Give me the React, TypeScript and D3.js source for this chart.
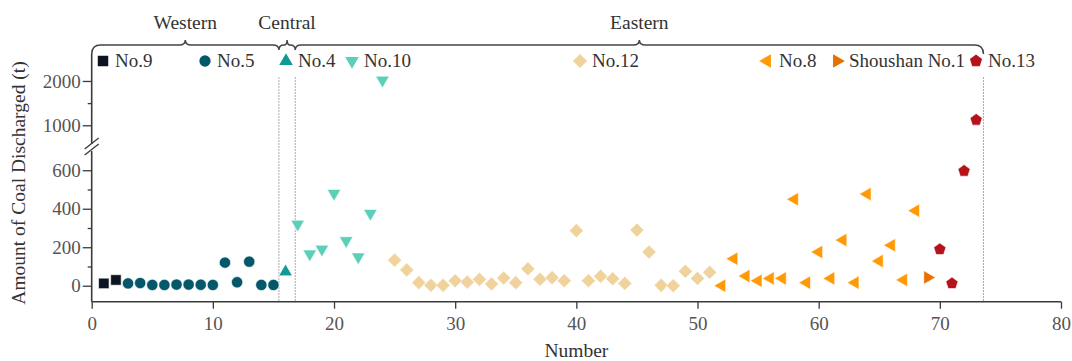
import React, { useEffect, useRef } from "react";
import * as d3 from "d3";

// [number, amount of coal discharged (t)]
const no9 = [[1, 12], [2, 30]];
const no5 = [
  [3, 12], [4, 14], [5, 4], [6, 4], [7, 6], [8, 6], [9, 5], [10, 4],
  [11, 120], [12, 18], [13, 125], [14, 4], [15, 4],
];
const no4 = [[16, 72]];
const no10 = [[17, 320], [18, 165], [19, 190], [20, 480], [21, 234], [22, 150], [23, 376], [24, 2020]];
const no12 = [
  [25, 133], [26, 82], [27, 16], [28, 2], [29, 2], [30, 26], [31, 19], [32, 33],
  [33, 9], [34, 40], [35, 16], [36, 88], [37, 33], [38, 42], [39, 26], [40, 286],
  [41, 26], [42, 49], [43, 36], [44, 12], [45, 289], [46, 175], [47, 2], [48, 0],
  [49, 75], [50, 38], [51, 70],
];
const no8 = [
  [52, 0], [53, 140], [54, 50], [55, 26], [56, 38], [57, 38], [58, 449], [59, 16],
  [60, 175], [61, 38], [62, 237], [63, 16], [64, 476], [65, 128], [66, 210], [67, 30], [68, 390],
];
const shoushan = [[69, 43]];
const no13 = [[70, 189], [71, 12], [72, 596], [73, 1120]];

const lowTicks = [0, 200, 400, 600];
const lowMinor = [100, 300, 500];
const highTicks = [1000, 2000];
const highMinor = [1500];
const xTicks = [0, 10, 20, 30, 40, 50, 60, 70, 80];
const dividers = [15.45, 16.8, 73.6];
const regions = [
  { name: "Western", from: 0, to: 15.45 },
  { name: "Central", from: 15.45, to: 16.8 },
  { name: "Eastern", from: 16.8, to: 73.6 },
];

const series = [
  { name: "No.9", data: no9, shape: "square", color: "#0b1420", lx: 103 },
  { name: "No.5", data: no5, shape: "circle", color: "#04586a", lx: 205 },
  { name: "No.4", data: no4, shape: "up", color: "#0f9a94", lx: 286 },
  { name: "No.10", data: no10, shape: "down", color: "#5ccfb8", lx: 352 },
  { name: "No.12", data: no12, shape: "diamond", color: "#f0d39c", lx: 580 },
  { name: "No.8", data: no8, shape: "left", color: "#ff9a05", lx: 767 },
  { name: "Shoushan No.1", data: shoushan, shape: "right", color: "#e86f00", lx: 837 },
  { name: "No.13", data: no13, shape: "pentagon", color: "#b5121b", lx: 976 },
];

const FONT = "'Liberation Serif', 'Times New Roman', serif";

function pentagon(r: number) {
  const pts = d3.range(5).map((i) => {
    const a = -Math.PI / 2 + (i * 2 * Math.PI) / 5;
    return [r * Math.cos(a), r * Math.sin(a)];
  });
  return "M" + pts.map((p) => p.join(",")).join("L") + "Z";
}

function markerPath(shape: string) {
  if (shape === "square") return d3.symbol(d3.symbolSquare, 110)()!;
  if (shape === "circle") return d3.symbol(d3.symbolCircle, 100)()!;
  if (shape === "diamond") return d3.symbol(d3.symbolSquare, 100)()!;
  if (shape === "pentagon") return pentagon(6.4);
  return d3.symbol(d3.symbolTriangle, 80)()!;
}

function markerRotate(shape: string) {
  if (shape === "down") return 180;
  if (shape === "left") return -90;
  if (shape === "right") return 90;
  if (shape === "diamond") return 45;
  return 0;
}

const App = () => {
  const ref = useRef<SVGSVGElement>(null);

  useEffect(() => {
    const svg = d3.select(ref.current);
    svg.selectAll("*").remove();

    const x = d3.scaleLinear().domain([0, 80]).range([91.7, 1061]);
    const yLow = d3.scaleLinear().domain([-83, 700]).range([301.7, 151]);
    const yHigh = d3.scaleLinear().domain([600, 2780]).range([143, 46.4]);
    const y = (v: number) => (v >= 700 ? yHigh(v) : yLow(v));

    const axisColor = "#3a3a3a";
    const bottom = 301.7;

    // dashed dividers
    svg.append("g")
      .selectAll("line")
      .data(dividers)
      .enter()
      .append("line")
      .attr("x1", (d) => x(d))
      .attr("x2", (d) => x(d))
      .attr("y1", 77)
      .attr("y2", bottom)
      .attr("stroke", "#aaa")
      .attr("stroke-width", 1)
      .attr("stroke-dasharray", "2,1");

    // y axis pieces
    const lowAxis = svg.append("g").attr("transform", `translate(${x(0)},0)`);
    lowAxis.call(d3.axisLeft(yLow).tickValues(lowTicks).tickSize(9).tickSizeOuter(0));
    const lowMinorAxis = svg.append("g").attr("transform", `translate(${x(0)},0)`);
    lowMinorAxis.call(d3.axisLeft(yLow).tickValues(lowMinor).tickSize(4).tickFormat(() => ""));
    const highAxis = svg.append("g").attr("transform", `translate(${x(0)},0)`);
    highAxis.call(d3.axisLeft(yHigh).tickValues(highTicks).tickSize(9).tickFormat(d3.format("d")));
    const highMinorAxis = svg.append("g").attr("transform", `translate(${x(0)},0)`);
    highMinorAxis.call(d3.axisLeft(yHigh).tickValues(highMinor).tickSize(4).tickFormat(() => ""));

    // x axis
    const xAxis = svg.append("g").attr("transform", `translate(0,${bottom})`);
    xAxis.call(d3.axisBottom(x).tickValues(xTicks).tickSize(7).tickSizeOuter(0));

    [lowAxis, lowMinorAxis, highAxis, highMinorAxis, xAxis].forEach((g) => {
      g.select(".domain").remove();
      g.selectAll(".tick line").attr("stroke", axisColor).attr("stroke-width", 1.3);
      g.selectAll(".tick text")
        .attr("fill", "#555")
        .style("font-family", FONT)
        .style("font-size", "19px");
    });
    lowAxis.selectAll(".tick text").attr("x", -11);
    highAxis.selectAll(".tick text").attr("x", -11);
    xAxis.selectAll(".tick text").attr("y", 15);

    // axis lines
    svg.append("line")
      .attr("x1", x(0)).attr("x2", x(80))
      .attr("y1", bottom).attr("y2", bottom)
      .attr("stroke", axisColor).attr("stroke-width", 1.6);
    svg.append("line")
      .attr("x1", x(0)).attr("x2", x(0))
      .attr("y1", bottom).attr("y2", 151)
      .attr("stroke", axisColor).attr("stroke-width", 1.6);
    svg.append("line")
      .attr("x1", x(0)).attr("x2", x(0))
      .attr("y1", 144).attr("y2", 54)
      .attr("stroke", axisColor).attr("stroke-width", 1.6);

    // axis break marks
    [0, 6].forEach((o) => {
      svg.append("line")
        .attr("x1", x(0) - 7).attr("y1", 155 - o)
        .attr("x2", x(0) + 7).attr("y2", 144 - o)
        .attr("stroke", axisColor).attr("stroke-width", 1.3);
    });

    // region braces
    const top = 45;
    const ends = regions.map((r) => [x(r.from), x(r.to)]);
    const p = d3.path();
    const [w0, w1] = ends[0];
    const wm = (w0 + w1) / 2;
    p.moveTo(w0, 54);
    p.quadraticCurveTo(w0, top, w0 + 9, top);
    p.lineTo(wm - 6, top);
    p.quadraticCurveTo(wm, top, wm, top - 5);
    p.quadraticCurveTo(wm, top, wm + 6, top);
    p.lineTo(w1 - 6, top);
    p.quadraticCurveTo(w1, top, w1, top + 5);
    const [c0, c1] = ends[1];
    const cm = (c0 + c1) / 2;
    p.moveTo(c0, top + 5);
    p.quadraticCurveTo(c0, top, cm - 3, top);
    p.quadraticCurveTo(cm, top, cm, top - 5);
    p.quadraticCurveTo(cm, top, cm + 3, top);
    p.quadraticCurveTo(c1, top, c1, top + 5);
    const [e0, e1] = ends[2];
    const em = (e0 + e1) / 2;
    p.moveTo(e0, top + 5);
    p.quadraticCurveTo(e0, top, e0 + 6, top);
    p.lineTo(em - 6, top);
    p.quadraticCurveTo(em, top, em, top - 5);
    p.quadraticCurveTo(em, top, em + 6, top);
    p.lineTo(e1 - 9, top);
    p.quadraticCurveTo(e1, top, e1, 54);
    svg.append("path")
      .attr("d", p.toString())
      .attr("fill", "none")
      .attr("stroke", "#444")
      .attr("stroke-width", 1.5);

    svg.append("g")
      .selectAll("text")
      .data(regions)
      .enter()
      .append("text")
      .attr("x", (d) => x((d.from + d.to) / 2))
      .attr("y", 29)
      .attr("text-anchor", "middle")
      .attr("fill", "#333")
      .style("font-family", FONT)
      .style("font-size", "19.5px")
      .text((d) => d.name);

    // points
    series.forEach((s) => {
      const path = markerPath(s.shape);
      const rot = markerRotate(s.shape);
      svg.append("g")
        .selectAll("path")
        .data(s.data)
        .enter()
        .append("path")
        .attr("d", path)
        .attr("transform", (d) => `translate(${x(d[0])},${y(d[1])}) rotate(${rot})`)
        .attr("fill", s.color)
        .attr("stroke", "#fff")
        .attr("stroke-width", 0.6);
    });

    // legend
    const leg = svg.append("g");
    series.forEach((s) => {
      leg.append("path")
        .attr("d", markerPath(s.shape))
        .attr("transform", `translate(${s.lx},61) rotate(${markerRotate(s.shape)})`)
        .attr("fill", s.color);
      leg.append("text")
        .attr("x", s.lx + 12)
        .attr("y", 67)
        .attr("fill", "#333")
        .style("font-family", FONT)
        .style("font-size", "19px")
        .text(s.name);
    });

    // axis titles
    svg.append("text")
      .attr("transform", "translate(25,183) rotate(-90)")
      .attr("text-anchor", "middle")
      .attr("fill", "#333")
      .style("font-family", FONT)
      .style("font-size", "19.5px")
      .text("Amount of Coal Discharged (t)");
    svg.append("text")
      .attr("x", x(40))
      .attr("y", 357)
      .attr("text-anchor", "middle")
      .attr("fill", "#333")
      .style("font-family", FONT)
      .style("font-size", "19.5px")
      .text("Number");
  }, []);

  return (
    <svg
      ref={ref}
      width={1072}
      height={361}
      style={{ position: "absolute", left: 0, top: 0, background: "#fff" }}
    ></svg>
  );
};

export default App;
